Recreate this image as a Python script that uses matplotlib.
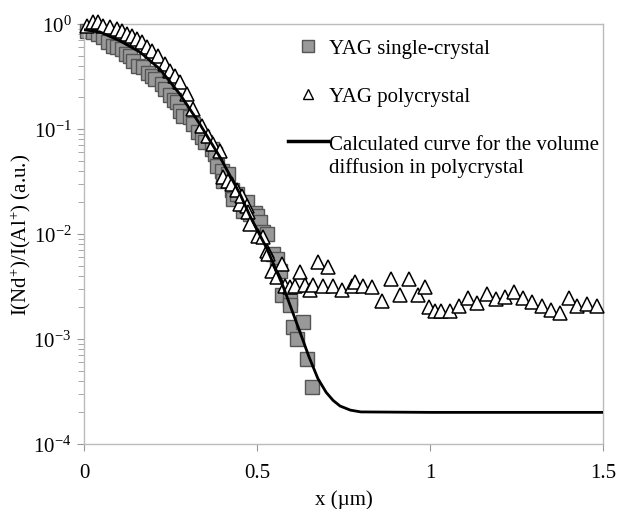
import matplotlib.pyplot as plt
from matplotlib.lines import Line2D
from matplotlib.ticker import LogLocator, FixedLocator, NullFormatter

plt.rcParams['font.family'] = ['Liberation Serif', 'DejaVu Serif']
plt.rcParams['mathtext.fontset'] = 'custom'
plt.rcParams['mathtext.rm'] = 'Liberation Serif'
plt.rcParams['mathtext.it'] = 'Liberation Serif:italic'

# SIMS depth profiles, x in um
single_x = [0.009, 0.026, 0.04, 0.055, 0.069, 0.084, 0.095, 0.11, 0.121, 0.133,
            0.142, 0.156, 0.171, 0.185, 0.197, 0.205, 0.225, 0.234, 0.249, 0.26,
            0.269, 0.277, 0.286, 0.306, 0.315, 0.329, 0.341, 0.35, 0.37, 0.379,
            0.384, 0.399, 0.402, 0.416, 0.428, 0.431, 0.442, 0.46, 0.471, 0.48,
            0.494, 0.50, 0.509, 0.517, 0.529, 0.546, 0.558, 0.566, 0.572, 0.595,
            0.595, 0.604, 0.616, 0.633, 0.645, 0.659]
single_y = [0.86, 0.84, 0.80, 0.76, 0.67, 0.62, 0.60, 0.58, 0.52, 0.50,
            0.44, 0.40, 0.39, 0.34, 0.32, 0.30, 0.27, 0.24, 0.21, 0.19,
            0.18, 0.148, 0.133, 0.13, 0.112, 0.094, 0.084, 0.075, 0.065, 0.058,
            0.044, 0.040, 0.032, 0.037, 0.026, 0.0215, 0.024, 0.0166, 0.020, 0.0155,
            0.016, 0.0148, 0.013, 0.0105, 0.010, 0.0065, 0.0058, 0.0044, 0.0026, 0.0024,
            0.0021, 0.0013, 0.0010, 0.00145, 0.00065, 0.00035]

poly_x = [0.009, 0.026, 0.04, 0.055, 0.075, 0.095, 0.11, 0.124, 0.139, 0.153,
          0.168, 0.182, 0.197, 0.214, 0.234, 0.249, 0.263, 0.277, 0.298, 0.315,
          0.341, 0.358, 0.373, 0.393, 0.402, 0.416, 0.428, 0.442, 0.451, 0.457,
          0.471, 0.474, 0.48, 0.503, 0.517, 0.529, 0.532, 0.543, 0.558, 0.572,
          0.581, 0.595, 0.61, 0.624, 0.639, 0.653, 0.662, 0.676, 0.691, 0.705,
          0.72, 0.746, 0.775, 0.783, 0.806, 0.832, 0.861, 0.887, 0.913, 0.939,
          0.965, 0.986, 0.997, 1.014, 1.032, 1.058, 1.084, 1.11, 1.136, 1.165,
          1.191, 1.217, 1.243, 1.269, 1.295, 1.324, 1.35, 1.376, 1.402, 1.425,
          1.454, 1.483]
poly_y = [0.957, 1.045, 1.045, 0.957, 0.94, 0.90, 0.86, 0.80, 0.77, 0.72,
          0.67, 0.60, 0.55, 0.50, 0.42, 0.36, 0.32, 0.28, 0.215, 0.155,
          0.107, 0.086, 0.072, 0.062, 0.035, 0.032, 0.030, 0.026, 0.0193, 0.023,
          0.0185, 0.0162, 0.0124, 0.0096, 0.0094, 0.0069, 0.0065, 0.0044, 0.0039, 0.0052,
          0.0032, 0.0031, 0.0032, 0.0043, 0.0033, 0.0029, 0.0033, 0.0054, 0.0032, 0.0049,
          0.0032, 0.0029, 0.0032, 0.0035, 0.0032, 0.0031, 0.0023, 0.0037, 0.0026, 0.0037,
          0.0026, 0.0031, 0.0020, 0.00185, 0.00185, 0.00185, 0.00206, 0.00246, 0.0022, 0.0027,
          0.0024, 0.0025, 0.0028, 0.00246, 0.00225, 0.00206, 0.0019, 0.00177, 0.00246, 0.00206,
          0.00215, 0.00206]

calc_x = [0, 0.046, 0.104, 0.162, 0.22, 0.277, 0.335, 0.393, 0.451, 0.48,
          0.529, 0.575, 0.624, 0.65, 0.676, 0.70, 0.72, 0.74, 0.77, 0.80, 1.0, 1.5]
calc_y = [0.88, 0.84, 0.69, 0.54, 0.37, 0.215, 0.111, 0.054, 0.024, 0.0148,
          0.0072, 0.0032, 0.00117, 0.00068, 0.00042, 0.00031, 0.00026, 0.00023,
          0.00021, 0.000202, 0.0002, 0.0002]

labels = ["YAG single-crystal", "YAG polycrystal",
          "Calculated curve for the volume", "diffusion in polycrystal"]

fig = plt.figure(figsize=(6.2, 5.1), dpi=100)
ax = fig.add_axes([0.1355, 0.1275, 0.837, 0.8235])

ax.plot(single_x, single_y, 's', ms=9.5, mfc='#999999', mec='#555555', mew=1.0,
        clip_on=False, zorder=2)
ax.plot(poly_x, poly_y, '^', ms=9.5, mfc='white', mec='black', mew=1.1,
        clip_on=False, zorder=3)
ax.plot(calc_x, calc_y, '-', color='black', lw=2.0, zorder=4)

ax.set_yscale('log')
ax.set_ylim(1e-4, 1)
ax.set_xlim(0, 1.5)
ax.xaxis.set_major_locator(FixedLocator([0, 0.5, 1, 1.5]))
ax.set_xticklabels(["0", "0.5", "1", "1.5"])
ax.yaxis.set_major_locator(LogLocator(base=10, numticks=10))
ax.yaxis.set_minor_locator(LogLocator(base=10, subs=range(2, 10), numticks=10))
ax.yaxis.set_minor_formatter(NullFormatter())

for s in ax.spines.values():
    s.set_color('#bbbbbb')
    s.set_linewidth(1.0)
ax.tick_params(axis='both', which='major', direction='out', length=5,
               color='#999999', labelsize=15, pad=9)
ax.tick_params(axis='y', which='major', pad=4)
ax.tick_params(axis='y', which='minor', direction='out', length=4, color='#999999')

ax.set_xlabel("x (\u00b5m)", fontsize=15, labelpad=5)
ax.set_ylabel("I(Nd$^{+}$)/I(Al$^{+}$) (a.u.)", fontsize=15, labelpad=0)

handles = [
    Line2D([], [], ls='none', marker='s', ms=9, mfc='#999999', mec='#555555'),
    Line2D([], [], ls='none', marker='^', ms=7.5, mfc='white', mec='black'),
    Line2D([], [], color='black', lw=2.5),
]
leg = ax.legend(handles, labels[:3], loc='upper left', bbox_to_anchor=(0.365, 1.0),
                frameon=False, fontsize=15, labelspacing=1.35, handlelength=1.9,
                handletextpad=0.05, borderaxespad=0.3)

# second line of the last legend entry
fig.canvas.draw()
bb = leg.get_texts()[2].get_window_extent().transformed(fig.transFigure.inverted())
fig.text(bb.x0, bb.y0 - 0.046, labels[3], fontsize=15, ha='left', va='bottom')

fig.savefig("out.png", dpi=100)
